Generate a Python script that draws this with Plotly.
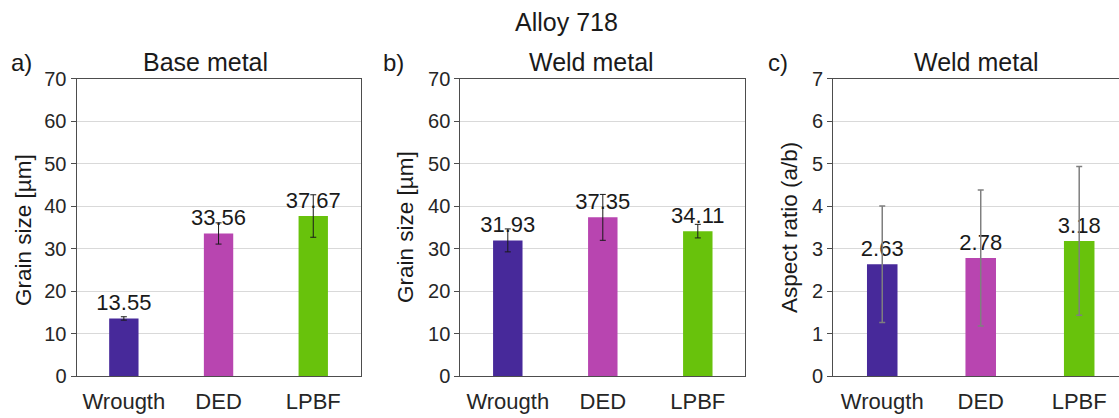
import plotly.graph_objects as go

categories = ["Wrougth", "DED", "LPBF"]
colors = ["#47299a", "#b845b0", "#68c20c"]

base_grain = [13.55, 33.56, 37.67]
base_grain_err = [0.4, 2.5, 5.0]
weld_grain = [31.93, 37.35, 34.11]
weld_grain_err = [2.7, 5.4, 1.6]
weld_aspect = [2.63, 2.78, 3.18]
weld_aspect_err = [1.37, 1.6, 1.75]

FONT = "Liberation Sans, Arial, sans-serif"
W, H = 1119, 418

def px_x(p):
    return p / W

def px_y(p):
    return (H - p) / H

fig = go.Figure()

panels = [
    (base_grain, base_grain_err, "x", "y", "#1a1a1a", 1),
    (weld_grain, weld_grain_err, "x2", "y2", "#1a1a1a", 1),
    (weld_aspect, weld_aspect_err, "x3", "y3", "#7f7f7f", 1.5),
]
for vals, errs, xa, ya, ecol, eth in panels:
    fig.add_trace(go.Bar(
        x=categories, y=vals, xaxis=xa, yaxis=ya,
        marker=dict(color=colors, line=dict(width=0)),
        width=0.31,
        error_y=dict(type="data", array=errs, visible=True, color=ecol, thickness=eth, width=3),
        text=[f"{v:.2f}" for v in vals], textposition="outside",
        textfont=dict(family=FONT, size=22, color="#1a1a1a"),
        constraintext="none", cliponaxis=False, showlegend=False,
        hoverinfo="skip",
    ))

ydom = [px_y(376), px_y(78.7)]
line_col = "#4d4d4d"
grid_col = "#d9d9d9"

def xax(dom, rng, mirror=True):
    return dict(domain=dom, range=rng, showline=True, linecolor=line_col, linewidth=1,
                mirror=mirror, ticks="", showgrid=False, automargin=False, fixedrange=True,
                tickfont=dict(family=FONT, size=22, color="#262626"), ticklabelstandoff=6)

def yax(anchor, rng, dtick, mirror=True):
    return dict(domain=ydom, range=rng, dtick=dtick, anchor=anchor, showline=True,
                linecolor=line_col, linewidth=1, mirror=mirror, ticks="outside", ticklen=5,
                tickcolor=line_col, showgrid=True, gridcolor=grid_col, gridwidth=1,
                zeroline=False, automargin=False, fixedrange=True,
                tickfont=dict(family=FONT, size=20, color="#262626"))

fig.update_layout(
    width=W, height=H, margin=dict(l=0, r=0, t=0, b=0),
    paper_bgcolor="white", plot_bgcolor="white", template="none",
    xaxis=dict(**xax([px_x(76.5), px_x(360.6)], [-0.5, 2.5]), anchor="y"),
    xaxis2=dict(**xax([px_x(460.3), px_x(745.3)], [-0.5, 2.5]), anchor="y2"),
    xaxis3=dict(**xax([px_x(833), 1.0], [-0.5, 2.404]), anchor="y3"),
    yaxis=yax("x", [0, 70], 10),
    yaxis2=yax("x2", [0, 70], 10),
    yaxis3=yax("x3", [0, 7], 1, mirror=False),
)

def ann(text, x, y, size, angle=0):
    fig.add_annotation(text=text, x=px_x(x), y=px_y(y), xref="paper", yref="paper",
                       showarrow=False, textangle=angle, xanchor="center", yanchor="middle",
                       font=dict(family=FONT, size=size, color="#1a1a1a"))

ann("Alloy 718", 566, 22, 25)
ann("Base metal", 205.5, 62, 25)
ann("Weld metal", 591, 62, 25)
ann("Weld metal", 976, 62, 25)
ann("a)", 21, 63, 24)
ann("b)", 393, 63, 24)
ann("c)", 778, 63, 24)
ann("Grain size [µm]", 23, 230, 22.5, -90)
ann("Grain size [µm]", 405, 227, 22.5, -90)
ann("Aspect ratio (a/b)", 790, 228, 22.5, -90)

fig.write_html(
    "out.html",
    config={"displayModeBar": False, "staticPlot": True},
    post_script="document.body.style.margin='0';document.body.style.overflow='hidden';",
)
